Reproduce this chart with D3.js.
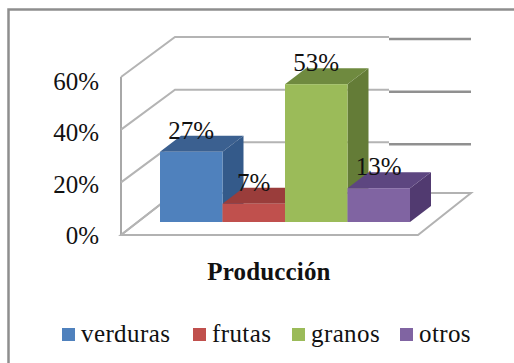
<!DOCTYPE html>
<html><head><meta charset="utf-8">
<script src="https://cdn.jsdelivr.net/npm/d3@7"></script>
<style>html,body{margin:0;background:#fff}svg{display:block}text{font-family:"Liberation Serif",serif;fill:#111}</style>
</head><body><svg id="c" width="514" height="363"></svg>
<script>
const categories = ["verduras", "frutas", "granos", "otros"];
const values = [27, 7, 53, 13];
const ticks = [0, 20, 40, 60];
const faces = {
  verduras: ["#4f81bd", "#3b6090", "#345a8a"],
  frutas: ["#c0504d", "#9a3d3b", "#8a3533"],
  granos: ["#9bbb59", "#6f8a3f", "#647c37"],
  otros: ["#8064a2", "#5d4680", "#513a70"]
};

const svg = d3.select("#c");
const depth = { dx: 54, dy: -40 };
const barDepth = { dx: 21, dy: -16 };

const y = d3.scaleLinear().domain([0, 60]).range([235, 77]);
const labelY = d3.scaleLinear().domain([0, 60]).range([244, 90]);
const barY = d3.scaleLinear().domain([0, 60]).range([222, 66]);
const x = d3.scaleBand().domain(categories).range([160, 410]);

// Frame around the chart
svg.append("path").attr("d", "M8.5,363V9.5H514").attr("fill", "none").attr("stroke", "#8e8e8e").attr("stroke-width", 2.5);

// Floor
svg.append("path")
  .attr("d", `M121,${y(0)}H418L471,${y(0) - 42}H${121 + depth.dx}Z`)
  .attr("fill", "#fff").attr("stroke", "#b2b2b2").attr("stroke-width", 2);

// Side wall and back gridlines
svg.append("line").attr("x1", 121).attr("x2", 121).attr("y1", y(60)).attr("y2", y(0)).attr("stroke", "#a8a8a8").attr("stroke-width", 2);
ticks.forEach(t => {
  const py = y(t);
  svg.append("path").attr("fill", "none").attr("stroke", "#b4b4b4").attr("stroke-width", 2)
    .attr("d", `M121,${py}L${121 + depth.dx},${py + depth.dy - (t > 0 ? 0 : 2)}` + (t > 0 ? `H389` : ""));
  if (t > 0) svg.append("line").attr("x1", 389).attr("x2", 471)
    .attr("y1", py + depth.dy + 2).attr("y2", py + depth.dy + 2)
    .attr("stroke", "#909090").attr("stroke-width", 2.5);
  svg.append("text").attr("x", 99).attr("y", labelY(t)).attr("text-anchor", "end")
    .attr("font-size", 25).text(t + "%");
});

// Bars: front, top and side faces
categories.forEach((c, i) => {
  const x0 = x(c), x1 = x0 + x.bandwidth(), y0 = barY(values[i]), yb = barY(0);
  const [front, top, side] = faces[c];
  const g = svg.append("g");
  g.append("path").attr("fill", side)
    .attr("d", `M${x1},${yb}L${x1 + barDepth.dx},${yb + barDepth.dy}V${y0 + barDepth.dy}L${x1},${y0}Z`);
  g.append("path").attr("fill", top)
    .attr("d", `M${x0},${y0}L${x0 + barDepth.dx},${y0 + barDepth.dy}H${x1 + barDepth.dx}L${x1},${y0}Z`);
  g.append("rect").attr("x", x0).attr("y", y0).attr("width", x.bandwidth()).attr("height", yb - y0).attr("fill", front);
});

// Value labels
categories.forEach((c, i) => {
  svg.append("text").attr("x", x(c) + x.bandwidth() / 2).attr("y", barY(values[i]) - 13)
    .attr("text-anchor", "middle").attr("font-size", 25).text(values[i] + "%");
});

svg.append("text").attr("x", 269).attr("y", 280).attr("text-anchor", "middle")
  .attr("font-size", 25).attr("font-weight", "bold").attr("letter-spacing", 0.15).text("Producción");

// Legend
const legendX = [62, 193, 292, 400];
categories.forEach((c, i) => {
  svg.append("rect").attr("x", legendX[i]).attr("y", 328).attr("width", 13).attr("height", 13).attr("fill", faces[c][0]);
  svg.append("text").attr("x", legendX[i] + 19).attr("y", 342).attr("font-size", 25).attr("letter-spacing", 0.4).text(c);
});
</script></body></html>
